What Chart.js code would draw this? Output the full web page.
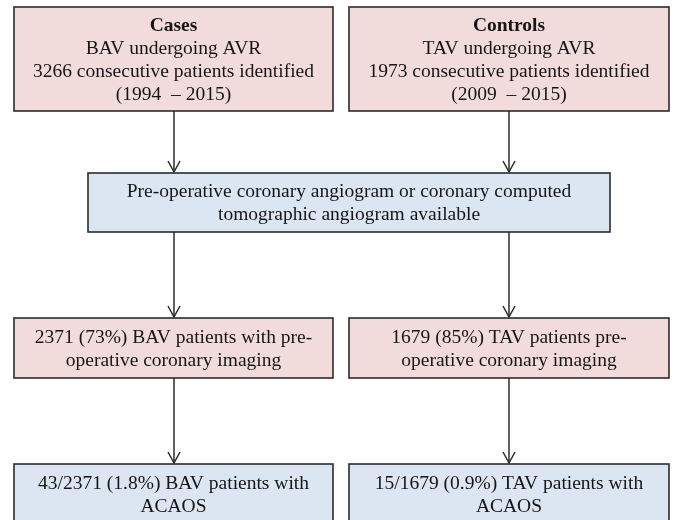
<!DOCTYPE html>
<html>
<head>
<meta charset="utf-8">
<script src="https://cdn.jsdelivr.net/npm/chart.js@4"></script>
<style>
  html, body { margin: 0; padding: 0; background: #ffffff; }
  canvas { display: block; }
</style>
</head>
<body>
<canvas id="flowChart" width="675" height="520"></canvas>
<script>
// Box texts (first line of the top boxes is a bold title)
const boxTitles = ["Cases", "Controls", "", "", "", "", ""]
const boxLines = [
  ["BAV undergoing AVR", "3266 consecutive patients identified", "(1994  \u2013 2015)"],
  ["TAV undergoing AVR", "1973 consecutive patients identified", "(2009  \u2013 2015)"],
  ["Pre-operative coronary angiogram or coronary computed", "tomographic angiogram available"],
  ["2371 (73%) BAV patients with pre-", "operative coronary imaging"],
  ["1679 (85%) TAV patients pre-", "operative coronary imaging"],
  ["43/2371 (1.8%) BAV patients with", "ACAOS"],
  ["15/1679 (0.9%) TAV patients with", "ACAOS"],
]
const boxKinds = ["case", "case", "common", "case", "case", "common", "common"]

// Layout in chart units (x 0..675, y 0..520, top down)
const boxLayout = [
  { x0: 14, x1: 333, y0: 7, y1: 111 },
  { x0: 349, x1: 669, y0: 7, y1: 111 },
  { x0: 88, x1: 610, y0: 173, y1: 232 },
  { x0: 14, x1: 333, y0: 318, y1: 378 },
  { x0: 349, x1: 669, y0: 318, y1: 378 },
  { x0: 14, x1: 333, y0: 464, y1: 524 },
  { x0: 349, x1: 669, y0: 464, y1: 524 },
]
// Arrows: [x, from y, to y]
const arrows = [
  [174, 111, 173], [509, 111, 173],
  [174, 232, 318], [509, 232, 318],
  [174, 378, 464], [509, 378, 464],
]

const fills = { case: "#f2dcdb", common: "#dce6f2" }
const lineGap = 23

const flowPlugin = {
  id: "flowPlugin",
  afterDraw(chart) {
    const ctx = chart.ctx
    const xs = chart.scales.x
    const ys = chart.scales.y
    const px = (v) => xs.getPixelForValue(v)
    const py = (v) => ys.getPixelForValue(v)

    ctx.save()
    // boxes
    boxLayout.forEach((b, i) => {
      const x0 = px(b.x0), x1 = px(b.x1), y0 = py(b.y0), y1 = py(b.y1)
      ctx.fillStyle = fills[boxKinds[i]]
      ctx.fillRect(x0, y0, x1 - x0, y1 - y0)
      ctx.strokeStyle = "#2b2b2b"
      ctx.lineWidth = 1.6
      ctx.strokeRect(x0, y0, x1 - x0, y1 - y0)

      const lines = boxTitles[i] ? [boxTitles[i]].concat(boxLines[i]) : boxLines[i]
      const cx = (x0 + x1) / 2
      const cy = (y0 + y1) / 2 + 1
      const start = cy - ((lines.length - 1) * lineGap) / 2
      ctx.fillStyle = "#151515"
      ctx.textAlign = "center"
      ctx.textBaseline = "middle"
      lines.forEach((t, j) => {
        const bold = boxTitles[i] && j === 0
        ctx.font = (bold ? "bold " : "") + "19.5px 'Liberation Serif', 'Times New Roman', serif"
        ctx.fillText(t, cx, start + j * lineGap)
      })
    })

    // arrows
    ctx.strokeStyle = "#2b2b2b"
    ctx.lineWidth = 1.5
    arrows.forEach(([ax, fy, ty]) => {
      const x = px(ax), y0 = py(fy), y1 = py(ty)
      ctx.beginPath()
      ctx.moveTo(x, y0)
      ctx.lineTo(x, y1 - 1)
      ctx.stroke()
      ctx.beginPath()
      ctx.moveTo(x - 6, y1 - 12)
      ctx.lineTo(x, y1 - 1)
      ctx.lineTo(x + 6, y1 - 12)
      ctx.stroke()
    })
    ctx.restore()
  },
}

new Chart(document.getElementById("flowChart"), {
  type: "scatter",
  data: { datasets: [{ data: [], pointRadius: 0 }] },
  options: {
    responsive: false,
    animation: false,
    layout: { padding: 0 },
    scales: {
      x: { type: "linear", min: 0, max: 675, display: false },
      y: { type: "linear", min: 0, max: 520, reverse: true, display: false },
    },
    plugins: { legend: { display: false }, tooltip: { enabled: false } },
  },
  plugins: [flowPlugin],
})
</script>
</body>
</html>
